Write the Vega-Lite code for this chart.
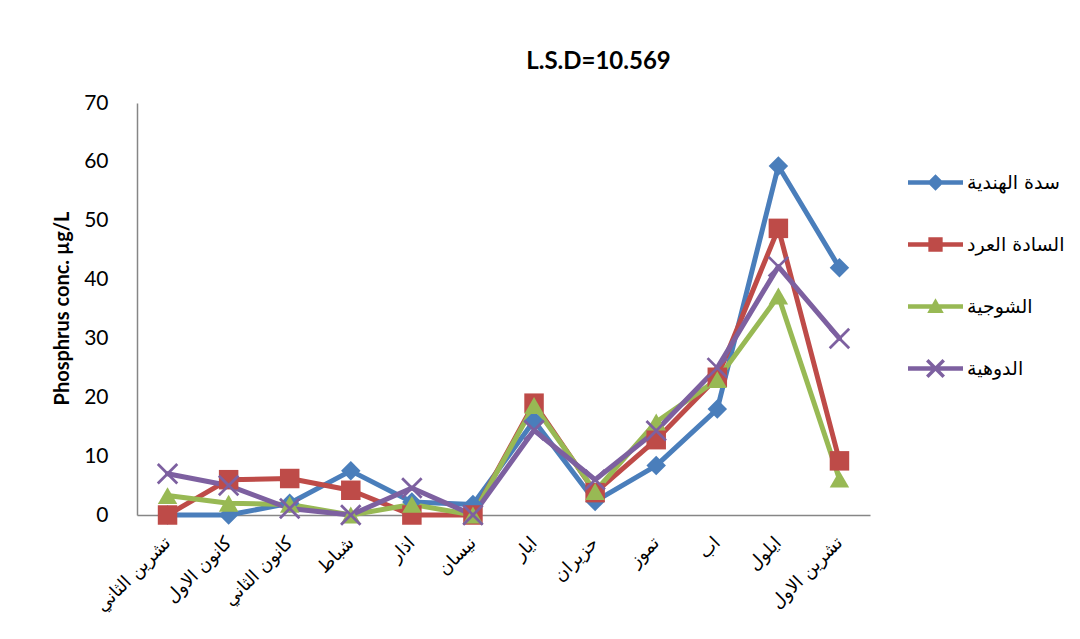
{
  "$schema": "https://vega.github.io/schema/vega-lite/v6.json",
  "width": 733,
  "height": 412,
  "autosize": {"type": "none"},
  "padding": {"left": 137, "top": 103, "right": 210, "bottom": 124},
  "background": "white",
  "title": {
    "text": "L.S.D=10.569",
    "font": "Lato",
    "fontSize": 24,
    "fontWeight": "bold",
    "color": "#000000",
    "anchor": "middle",
    "frame": "group",
    "baseline": "alphabetic",
    "offset": -1,
    "dx": 95
  },
  "config": {
    "view": {"stroke": null},
    "axis": {"grid": false, "ticks": false, "domainColor": "#868686", "domainWidth": 1.5}
  },
  "data": {
    "values": [
      {"month": "تشرين الثاني", "site": "سدة الهندية", "value": 0},
      {"month": "كانون الاول", "site": "سدة الهندية", "value": 0},
      {"month": "كانون الثاني", "site": "سدة الهندية", "value": 2},
      {"month": "شباط", "site": "سدة الهندية", "value": 7.5},
      {"month": "اذار", "site": "سدة الهندية", "value": 2.2},
      {"month": "نيسان", "site": "سدة الهندية", "value": 1.8},
      {"month": "ايار", "site": "سدة الهندية", "value": 16},
      {"month": "حزيران", "site": "سدة الهندية", "value": 2.3},
      {"month": "تموز", "site": "سدة الهندية", "value": 8.4},
      {"month": "اب", "site": "سدة الهندية", "value": 18},
      {"month": "ايلول", "site": "سدة الهندية", "value": 59.3},
      {"month": "تشرين الاول", "site": "سدة الهندية", "value": 42},
      {"month": "تشرين الثاني", "site": "السادة العرد", "value": 0},
      {"month": "كانون الاول", "site": "السادة العرد", "value": 6},
      {"month": "كانون الثاني", "site": "السادة العرد", "value": 6.2},
      {"month": "شباط", "site": "السادة العرد", "value": 4.2},
      {"month": "اذار", "site": "السادة العرد", "value": 0},
      {"month": "نيسان", "site": "السادة العرد", "value": 0},
      {"month": "ايار", "site": "السادة العرد", "value": 19},
      {"month": "حزيران", "site": "السادة العرد", "value": 3.8},
      {"month": "تموز", "site": "السادة العرد", "value": 12.8},
      {"month": "اب", "site": "السادة العرد", "value": 23.4},
      {"month": "ايلول", "site": "السادة العرد", "value": 48.7},
      {"month": "تشرين الاول", "site": "السادة العرد", "value": 9.2},
      {"month": "تشرين الثاني", "site": "الشوجية", "value": 3.3},
      {"month": "كانون الاول", "site": "الشوجية", "value": 2},
      {"month": "كانون الثاني", "site": "الشوجية", "value": 1.8},
      {"month": "شباط", "site": "الشوجية", "value": 0},
      {"month": "اذار", "site": "الشوجية", "value": 1.8},
      {"month": "نيسان", "site": "الشوجية", "value": 0},
      {"month": "ايار", "site": "الشوجية", "value": 18.6},
      {"month": "حزيران", "site": "الشوجية", "value": 4},
      {"month": "تموز", "site": "الشوجية", "value": 15.8},
      {"month": "اب", "site": "الشوجية", "value": 23},
      {"month": "ايلول", "site": "الشوجية", "value": 37.2},
      {"month": "تشرين الاول", "site": "الشوجية", "value": 6.1},
      {"month": "تشرين الثاني", "site": "الدوهية", "value": 7},
      {"month": "كانون الاول", "site": "الدوهية", "value": 5},
      {"month": "كانون الثاني", "site": "الدوهية", "value": 1.1},
      {"month": "شباط", "site": "الدوهية", "value": 0},
      {"month": "اذار", "site": "الدوهية", "value": 4.6},
      {"month": "نيسان", "site": "الدوهية", "value": 0},
      {"month": "ايار", "site": "الدوهية", "value": 14.4},
      {"month": "حزيران", "site": "الدوهية", "value": 6},
      {"month": "تموز", "site": "الدوهية", "value": 14.3},
      {"month": "اب", "site": "الدوهية", "value": 25},
      {"month": "ايلول", "site": "الدوهية", "value": 42.2},
      {"month": "تشرين الاول", "site": "الدوهية", "value": 30}
    ]
  },
  "encoding": {
    "x": {
      "field": "month",
      "type": "nominal",
      "sort": null,
      "scale": {
        "type": "point",
        "padding": 0.5,
        "domain": ["تشرين الثاني", "كانون الاول", "كانون الثاني", "شباط", "اذار", "نيسان", "ايار", "حزيران", "تموز", "اب", "ايلول", "تشرين الاول"]
      },
      "axis": {
        "title": null,
        "labelAngle": -45,
        "labelAlign": "right",
        "labelBaseline": "middle",
        "labelPadding": 25,
        "labelFont": "DejaVu Sans",
        "labelFontSize": 18,
        "labelColor": "#000000",
        "labelOverlap": false
      }
    },
    "y": {
      "field": "value",
      "type": "quantitative",
      "scale": {"domain": [0, 70], "nice": false},
      "axis": {
        "values": [0, 10, 20, 30, 40, 50, 60, 70],
        "labelFont": "Lato",
        "labelFontSize": 21,
        "labelColor": "#000000",
        "labelPadding": 29,
        "title": "Phosphrus conc. µg/L",
        "titleFont": "Lato",
        "titleFontSize": 20,
        "titleFontWeight": "bold",
        "titleColor": "#000000",
        "titleAngle": 270,
        "titleAlign": "center",
        "titleBaseline": "bottom",
        "titleX": -65,
        "titleY": 205
      }
    },
    "color": {
      "field": "site",
      "type": "nominal",
      "scale": {
        "domain": ["سدة الهندية", "السادة العرد", "الشوجية", "الدوهية"],
        "range": ["#4A7EBB", "#BE4B48", "#98B954", "#7D60A0"]
      },
      "legend": {
        "title": null,
        "orient": "none",
        "legendX": 771,
        "legendY": 52,
        "padding": 0,
        "symbolSize": 3025,
        "rowPadding": 24,
        "labelOffset": 4,
        "labelFont": "DejaVu Sans",
        "labelFontSize": 19,
        "labelColor": "#000000",
        "labelLimit": 200,
        "encode": {
          "symbols": {
            "update": {
              "shape": {"signal": "['M-1,-0.08L1,-0.08L1,0.08L-1,0.08ZM0,-0.3L0.3,0L0,0.3L-0.3,0Z','M-1,-0.08L1,-0.08L1,0.08L-1,0.08ZM-0.26,-0.26L0.26,-0.26L0.26,0.26L-0.26,0.26Z','M-1,-0.08L1,-0.08L1,0.08L-1,0.08ZM0,-0.3L0.3,0.24L-0.3,0.24Z','M-1,-0.08L1,-0.08L1,0.08L-1,0.08ZM-0.255,-0.345L0.345,0.255L0.255,0.345L-0.345,-0.255ZM0.345,-0.255L-0.255,0.345L-0.345,0.255L0.255,-0.345Z'][indexof(['سدة الهندية','السادة العرد','الشوجية','الدوهية'], datum.value)]"},
              "fill": {"signal": "scale('color', datum.value)"},
              "fillOpacity": {"value": 1},
              "strokeWidth": {"value": 0}
            }
          }
        }
      }
    }
  },
  "layer": [
    {
      "mark": {"type": "line", "strokeWidth": 5, "strokeJoin": "round", "strokeCap": "round"},
      "encoding": {"detail": {"field": "site"}}
    },
    {
      "transform": [{"filter": {"field": "site", "equal": "سدة الهندية"}}],
      "mark": {"type": "point", "filled": true, "opacity": 1, "size": 380, "shape": "diamond"}
    },
    {
      "transform": [{"filter": {"field": "site", "equal": "السادة العرد"}}],
      "mark": {"type": "point", "filled": true, "opacity": 1, "size": 380, "shape": "square"}
    },
    {
      "transform": [{"filter": {"field": "site", "equal": "الشوجية"}}],
      "mark": {"type": "point", "filled": true, "opacity": 1, "size": 380, "shape": "triangle-up"}
    },
    {
      "transform": [{"filter": {"field": "site", "equal": "الدوهية"}}],
      "mark": {"type": "point", "filled": true, "opacity": 1, "size": 380, "shape": "M-0.9,-1.1L1.1,0.9L0.9,1.1L-1.1,-0.9ZM1.1,-0.9L-0.9,1.1L-1.1,0.9L0.9,-1.1Z"}
    }
  ]
}
